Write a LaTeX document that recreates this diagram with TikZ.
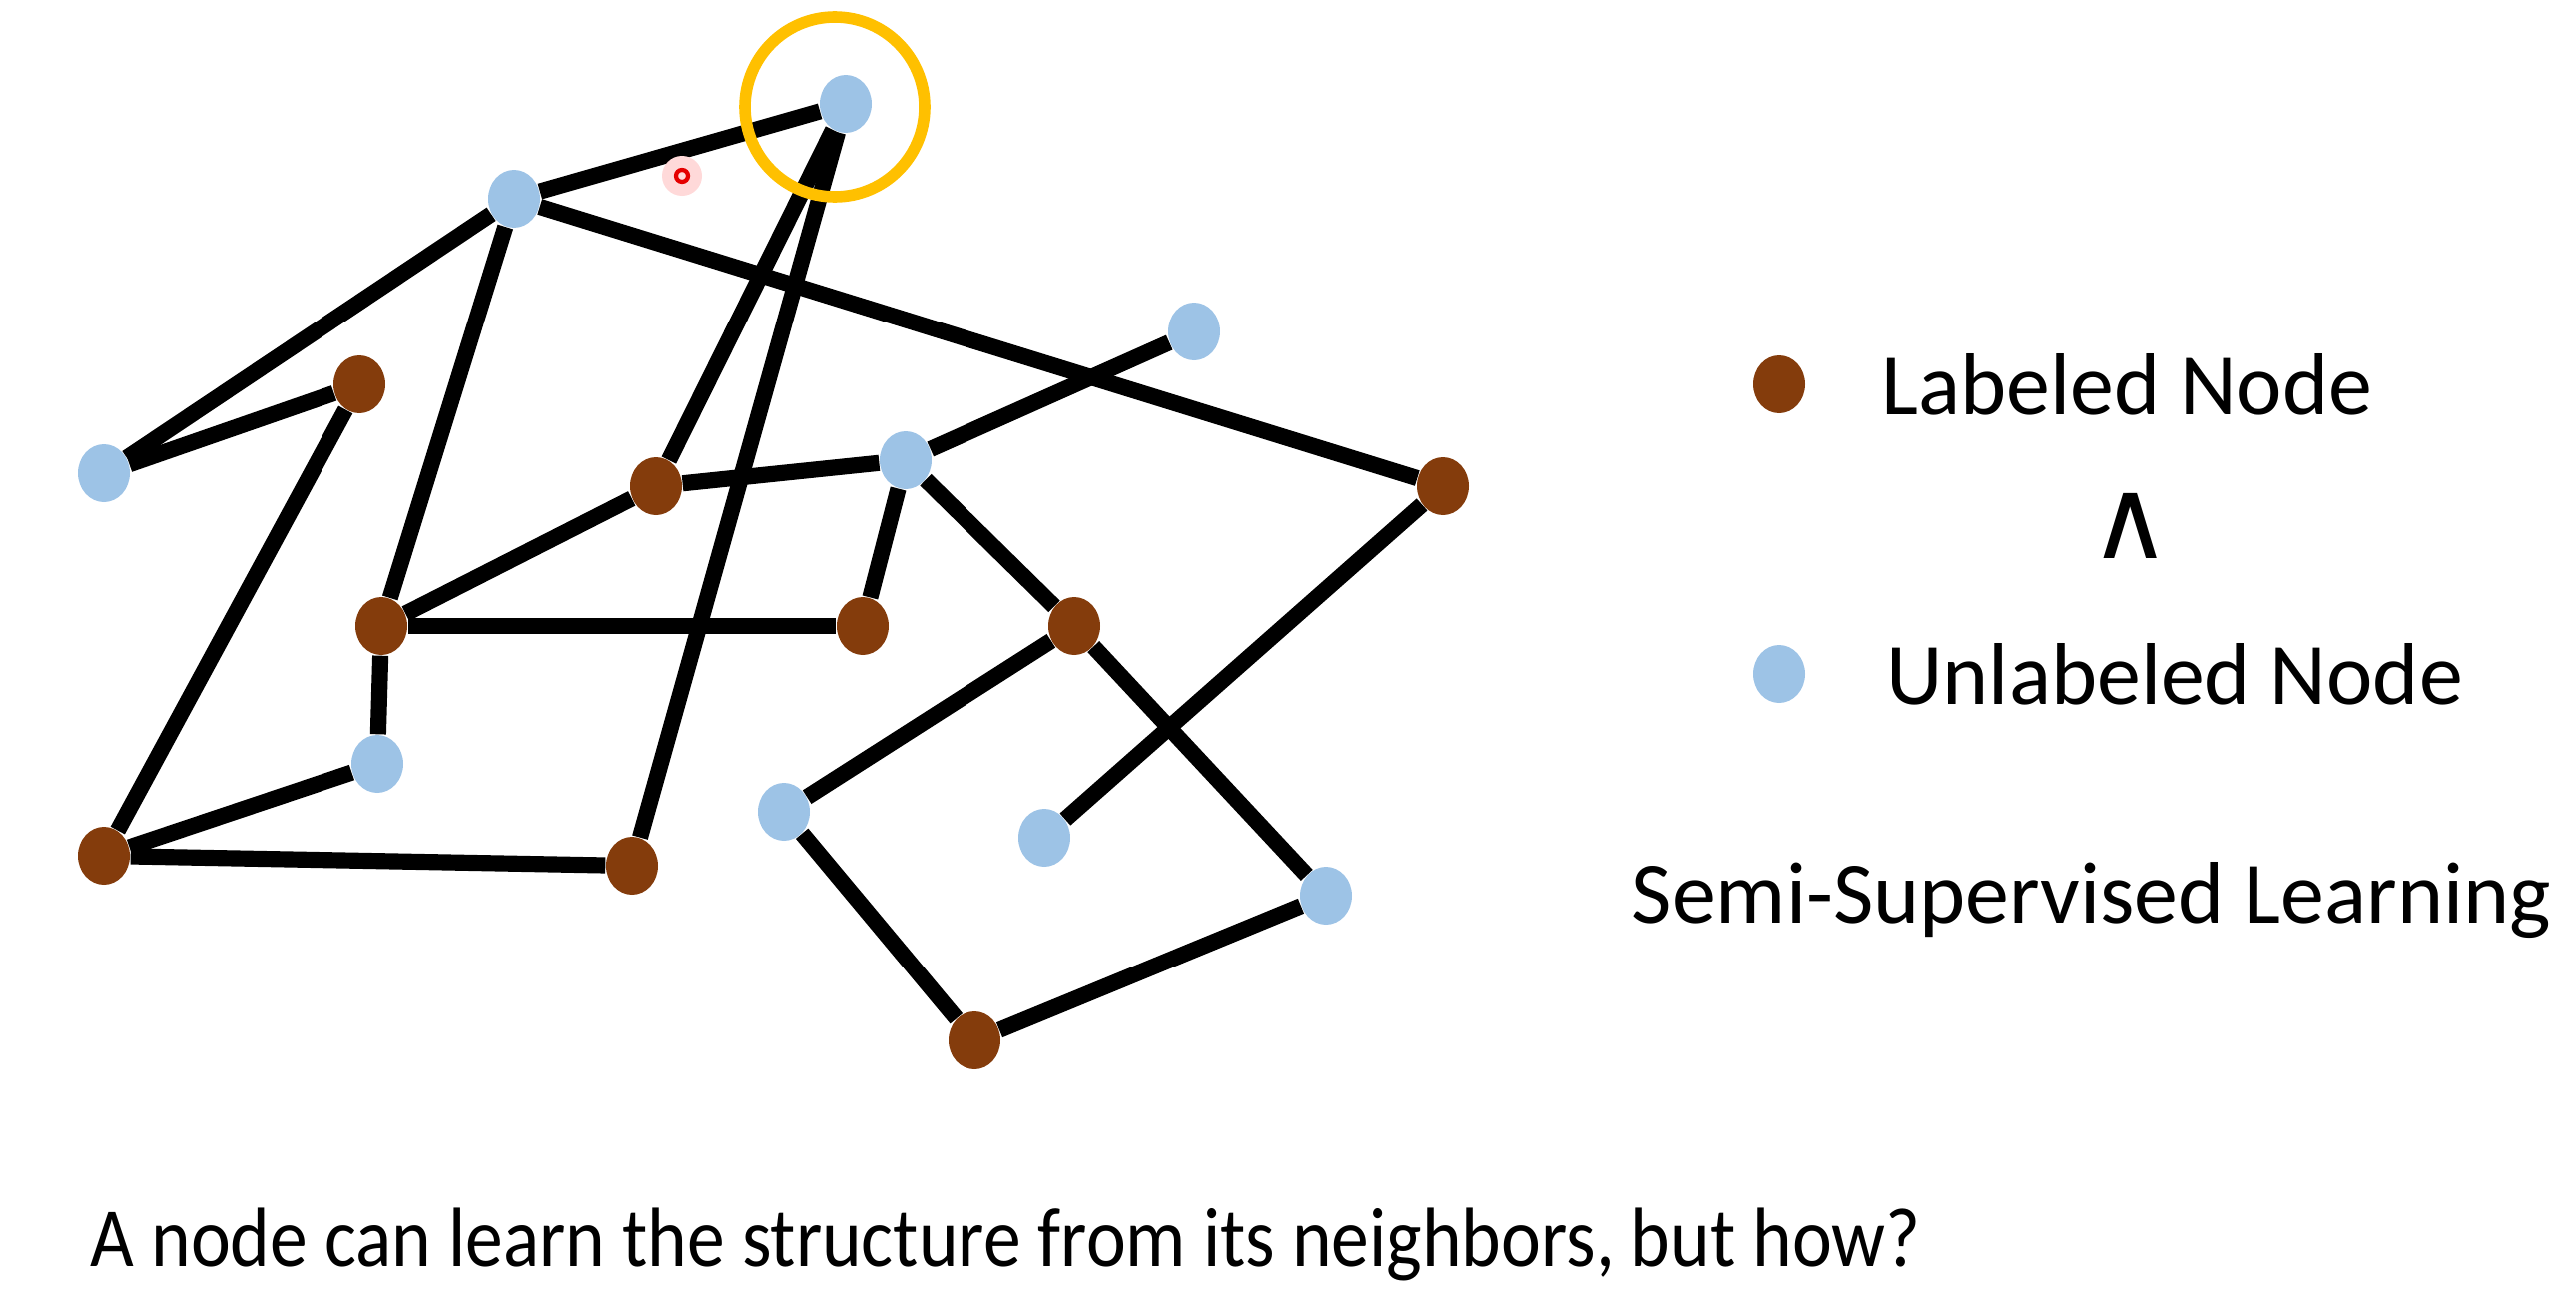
\documentclass[tikz,border=0pt]{standalone}
\usepackage{fontspec}
\setmainfont{Carlito}
\newfontfamily\condfont{Carlito}[FakeStretch=0.895]
\newfontfamily\symfont{DejaVu Sans}
\usepackage{tikz}
\usetikzlibrary{shapes.geometric,positioning}
\definecolor{nodebrown}{HTML}{843C0C}
\definecolor{nodeblue}{HTML}{9DC3E6}
\definecolor{ringgold}{HTML}{FFC000}

\begin{document}
\begin{tikzpicture}[
    x=0.1mm, y=-0.1mm,
    labeled/.style={ellipse, fill=nodebrown, minimum width=5.2mm, minimum height=5.8mm, inner sep=0pt},
    unlabeled/.style={ellipse, fill=nodeblue, minimum width=5.2mm, minimum height=5.8mm, inner sep=0pt},
    edge/.style={line width=4.6pt},
    legend/.style={font=\fontsize{25}{30}\selectfont, anchor=west, inner sep=0pt},
]
\useasboundingbox (0,0) rectangle (2580,1292);

% Nodes
\node [unlabeled] (u1) at (847,104) {};
\node [unlabeled] (u2) at (515,199) {};
\node [unlabeled] (u3) at (1196,332) {};
\node [unlabeled] (u4) at (104,474) {};
\node [unlabeled] (u5) at (907,461) {};
\node [unlabeled] (u6) at (378,765) {};
\node [unlabeled] (u7) at (785,813) {};
\node [unlabeled] (u8) at (1046,839) {};
\node [unlabeled] (u9) at (1328,897) {};
\node [labeled] (l1) at (360,385) {};
\node [labeled] (l2) at (657,487) {};
\node [labeled] (l3) at (1445,487) {};
\node [labeled] (l4) at (382,627) {};
\node [labeled] (l5) at (864,627) {};
\node [labeled] (l6) at (1076,627) {};
\node [labeled] (l7) at (104,857) {};
\node [labeled] (l8) at (633,867) {};
\node [labeled] (l9) at (976,1042) {};

% Edges
\draw [edge] (u1) -- (u2);
\draw [edge] (u1) -- (l2);
\draw [edge] (u1) -- (l8);
\draw [edge] (u2) -- (l3);
\draw [edge] (u2) -- (u4);
\draw [edge] (u2) -- (l4);
\draw [edge] (l1) -- (u4);
\draw [edge] (l1) -- (l7);
\draw [edge] (l2) -- (l4);
\draw [edge] (l2) -- (u5);
\draw [edge] (u5) -- (u3);
\draw [edge] (u5) -- (l5);
\draw [edge] (u5) -- (l6);
\draw [edge] (l4) -- (l5);
\draw [edge] (l4) -- (u6);
\draw [edge] (u6) -- (l7);
\draw [edge] (l7) -- (l8);
\draw [edge] (l3) -- (u8);
\draw [edge] (l6) -- (u7);
\draw [edge] (l6) -- (u9);
\draw [edge] (u7) -- (l9);
\draw [edge] (l9) -- (u9);

% Highlight and pointer
\draw [ringgold, line width=3.3pt] (836,107) circle (90);
\fill [red!15] (683,176) circle (20);
\draw [red!90!black, line width=1.2pt] (683,176) circle (6);

% Legend
\node [labeled] (keylab) at (1782,385) {};
\node [legend, right=7.5mm of keylab] (keylabtxt) {Labeled Node};
\node [font=\symfont\fontsize{32}{36}\selectfont] (wedge) at (2134,527) {∧};
\node [unlabeled] (keyunl) at (1782,675) {};
\node [legend, right=8mm of keyunl] (keyunltxt) {Unlabeled Node};
\node [legend] (ssl) at (1634,902) {Semi-Supervised Learning};
\node [legend, font=\condfont\fontsize{24}{29}\selectfont] (question) at (90,1246) {A node can learn the structure from its neighbors, but how?};

\end{tikzpicture}
\end{document}
